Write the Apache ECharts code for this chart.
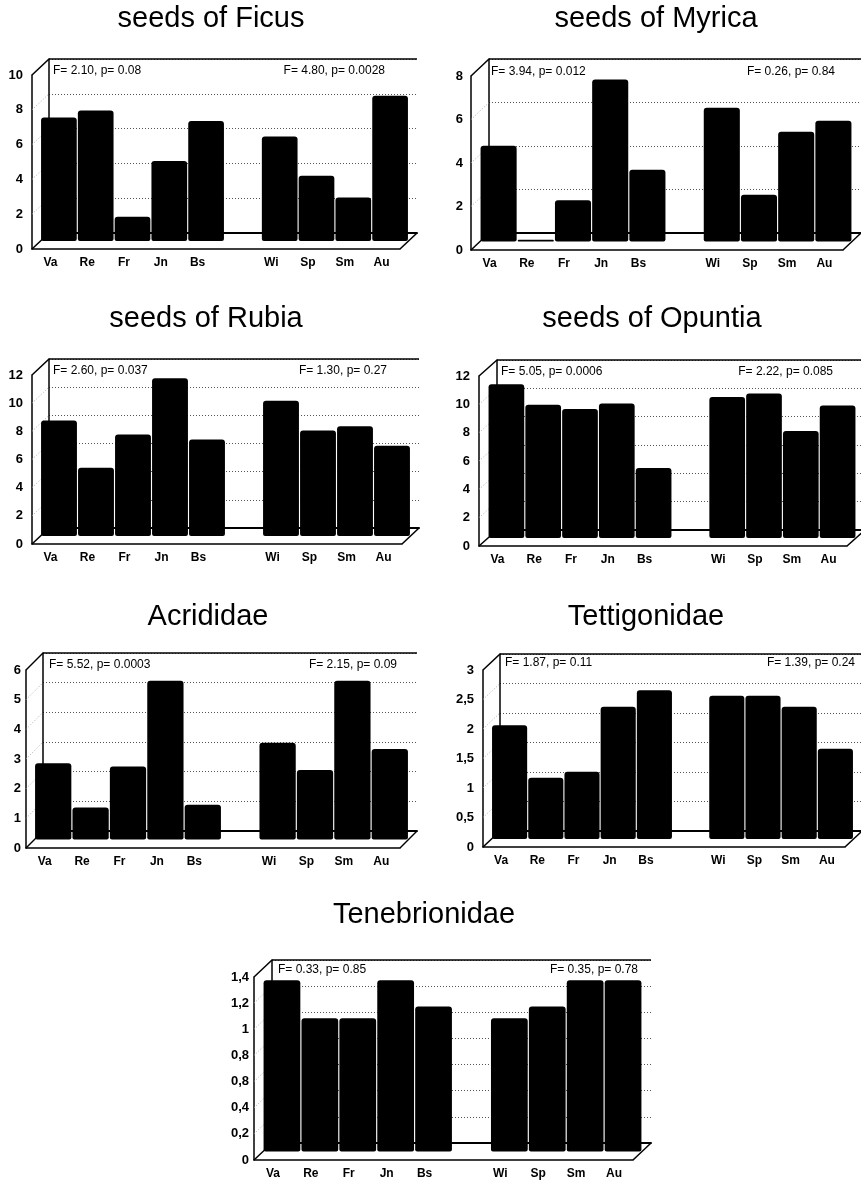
<!DOCTYPE html>
<html>
<head>
<meta charset="utf-8">
<script src="https://cdn.jsdelivr.net/npm/echarts@6/dist/echarts.min.js"></script>
<style>html,body{margin:0;padding:0;background:#fff}#c{width:861px;height:1184px}</style>
</head>
<body>
<div id="c"></div>
<script>
// ---- data ----
const categories = ['Va','Re','Fr','Jn','Bs','','Wi','Sp','Sm','Au'];

const ficus        = [7.1, 7.5, 1.4, 4.6, 6.9, null, 6.0, 3.75, 2.5, 8.35];
const myrica       = [4.4, 0.08, 1.9, 7.45, 3.3, null, 6.15, 2.15, 5.05, 5.55];
const rubia        = [8.2, 4.85, 7.2, 11.2, 6.85, null, 9.6, 7.5, 7.8, 6.4];
const opuntia      = [10.85, 9.4, 9.1, 9.5, 4.95, null, 9.95, 10.2, 7.55, 9.35];
const acrididae    = [2.57, 1.08, 2.46, 5.35, 1.17, null, 3.26, 2.34, 5.35, 3.05];
const tettigonidae = [1.93, 1.04, 1.14, 2.24, 2.52, null, 2.43, 2.43, 2.24, 1.53];
const tenebrionidae= [1.31, 1.02, 1.02, 1.31, 1.11, null, 1.02, 1.11, 1.31, 1.31];

const ticksFicus   = ['0','2','4','6','8','10'];
const ticksMyrica  = ['0','2','4','6','8'];
const ticksRubia   = ['0','2','4','6','8','10','12'];
const ticksOpuntia = ['0','2','4','6','8','10','12'];
const ticksAcrid   = ['0','1','2','3','4','5','6'];
const ticksTettig  = ['0','0,5','1','1,5','2','2,5','3'];
const ticksTenebr  = ['0','0,2','0,4','0,8','0,8','1','1,2','1,4'];

const titles = ['seeds of Ficus','seeds of Myrica','seeds of Rubia','seeds of Opuntia','Acrididae','Tettigonidae','Tenebrionidae'];
const statsLeft  = ['F= 2.10, p= 0.08','F= 3.94, p= 0.012','F= 2.60, p= 0.037','F= 5.05, p= 0.0006','F= 5.52, p= 0.0003','F= 1.87, p= 0.11','F= 0.33, p= 0.85'];
const statsRight = ['F= 4.80, p= 0.0028','F= 0.26, p= 0.84','F= 1.30, p= 0.27','F= 2.22, p= 0.085','F= 2.15, p= 0.09','F= 1.39, p= 0.24','F= 0.35, p= 0.78'];
const seriesValues = [ficus, myrica, rubia, opuntia, acrididae, tettigonidae, tenebrionidae];
const tickLabels = [ticksFicus, ticksMyrica, ticksRubia, ticksOpuntia, ticksAcrid, ticksTettig, ticksTenebr];
const axisMax  = [10, 8, 12, 12, 6, 3, 1.4];
const axisStep = [2, 2, 2, 2, 1, 0.5, 0.2];

// ---- layout (pixels) ----
const layout = [
  {fl:32,  ft:75,  fb:249,  fr:400, dx:17, dy:16, tx:211, ty:19,  sl:53,  sr:385, sy:71,  lm:9},
  {fl:471, ft:76,  fb:250,  fr:843, dx:18, dy:17, tx:656, ty:19,  sl:491, sr:835, sy:72,  lm:8},
  {fl:32,  ft:375, fb:544,  fr:402, dx:17, dy:16, tx:206, ty:319, sl:53,  sr:387, sy:371, lm:9},
  {fl:479, ft:376, fb:546,  fr:847, dx:18, dy:16, tx:652, ty:319, sl:501, sr:833, sy:372, lm:9},
  {fl:26,  ft:670, fb:848,  fr:400, dx:17, dy:17, tx:208, ty:617, sl:49,  sr:397, sy:665, lm:5},
  {fl:483, ft:670, fb:847,  fr:845, dx:17, dy:16, tx:646, ty:617, sl:505, sr:855, sy:663, lm:9},
  {fl:254, ft:977, fb:1160, fr:633, dx:18, dy:17, tx:424, ty:915, sl:278, sr:638, sy:970, lm:5}
];

const FONT = '"Liberation Sans", Arial, Helvetica, sans-serif';

const grid = [], xAxis = [], yAxis = [], series = [];
layout.forEach((L, i) => {
  const w = L.fr - L.fl, h = L.fb - L.ft;
  // front, middle, back planes
  grid.push({left: L.fl, top: L.ft, width: w, height: h});
  grid.push({left: L.fl + L.dx/2, top: L.ft - L.dy/2, width: w, height: h});
  grid.push({left: L.fl + L.dx, top: L.ft - L.dy, width: w, height: h});
  const g = i*3;
  xAxis.push({gridIndex: g, type: 'category', data: categories,
    axisLine: {show: true, lineStyle: {color: '#000', width: 1.5}},
    axisTick: {show: false},
    axisLabel: {interval: 0, margin: 8, color: '#000', fontFamily: FONT, fontWeight: 'bold', fontSize: 12}});
  xAxis.push({gridIndex: g+1, type: 'category', data: categories, show: false});
  xAxis.push({gridIndex: g+2, type: 'category', data: categories,
    axisLine: {show: true, lineStyle: {color: '#000', width: 2}},
    axisTick: {show: false}, axisLabel: {show: false}});
  const base = {type: 'value', min: 0, max: axisMax[i], interval: axisStep[i]};
  const labels = tickLabels[i];
  yAxis.push(Object.assign({gridIndex: g}, base, {
    axisLine: {show: true, lineStyle: {color: '#000', width: 1.5}},
    axisTick: {show: false}, splitLine: {show: false},
    axisLabel: {margin: L.lm, color: '#000', fontFamily: FONT, fontWeight: 'bold', fontSize: 13,
      formatter: (v, idx) => labels[idx] !== undefined ? labels[idx] : ''}}));
  yAxis.push(Object.assign({gridIndex: g+1}, base, {show: false}));
  yAxis.push(Object.assign({gridIndex: g+2}, base, {
    axisLine: {show: true, lineStyle: {color: '#000', width: 1.5}},
    axisTick: {show: false}, axisLabel: {show: false},
    splitLine: {show: true, lineStyle: {color: '#555', width: 1, type: [1, 2]}}}));
  series.push({type: 'bar', xAxisIndex: g+1, yAxisIndex: g+1, data: seriesValues[i],
    barCategoryGap: '3%', itemStyle: {color: '#000', borderRadius: [3, 3, 2, 2]},
    silent: true, animation: false});
});

const chart = echarts.init(document.getElementById('c'), null, {renderer: 'canvas'});
chart.setOption({animation: false, backgroundColor: '#fff', grid, xAxis, yAxis, series});

// decorations: 3D frame lines, side-wall diagonals, titles and stats
const graphic = [];
const line = (x1, y1, x2, y2, style) => graphic.push({type: 'line', silent: true, z: 1,
  shape: {x1, y1, x2, y2}, style: Object.assign({stroke: '#000', lineWidth: 1.5}, style || {})});
layout.forEach((L, i) => {
  const g = i*3;
  const bl = L.fl + L.dx, br = L.fr + L.dx;
  const maxY = chart.convertToPixel({yAxisIndex: g}, axisMax[i]);
  const zeroY = chart.convertToPixel({yAxisIndex: g}, 0);
  line(bl, maxY - L.dy, br, maxY - L.dy);                 // back wall top
  line(L.fl, maxY, bl, maxY - L.dy);                       // top-left diagonal
  line(L.fl, zeroY, bl, zeroY - L.dy);                     // bottom-left diagonal
  line(L.fr, zeroY, br, zeroY - L.dy);                     // bottom-right diagonal
  const n = Math.round(axisMax[i] / axisStep[i]);
  for (let k = 1; k < n; k++) {
    const y = chart.convertToPixel({yAxisIndex: g}, k * axisStep[i]);
    line(L.fl, y, bl, y - L.dy, {stroke: '#aaa', lineWidth: 1, lineDash: [1, 2]});
  }
  graphic.push({type: 'text', silent: true, x: L.tx, y: L.ty,
    style: {text: titles[i], fill: '#000', font: '29px ' + FONT, textAlign: 'center', textVerticalAlign: 'middle'}});
  graphic.push({type: 'text', silent: true, x: L.sl, y: L.sy,
    style: {text: statsLeft[i], fill: '#000', font: '12px ' + FONT, textAlign: 'left', textVerticalAlign: 'middle'}});
  graphic.push({type: 'text', silent: true, x: L.sr, y: L.sy,
    style: {text: statsRight[i], fill: '#000', font: '12px ' + FONT, textAlign: 'right', textVerticalAlign: 'middle'}});
});
chart.setOption({graphic});
</script>
</body>
</html>
